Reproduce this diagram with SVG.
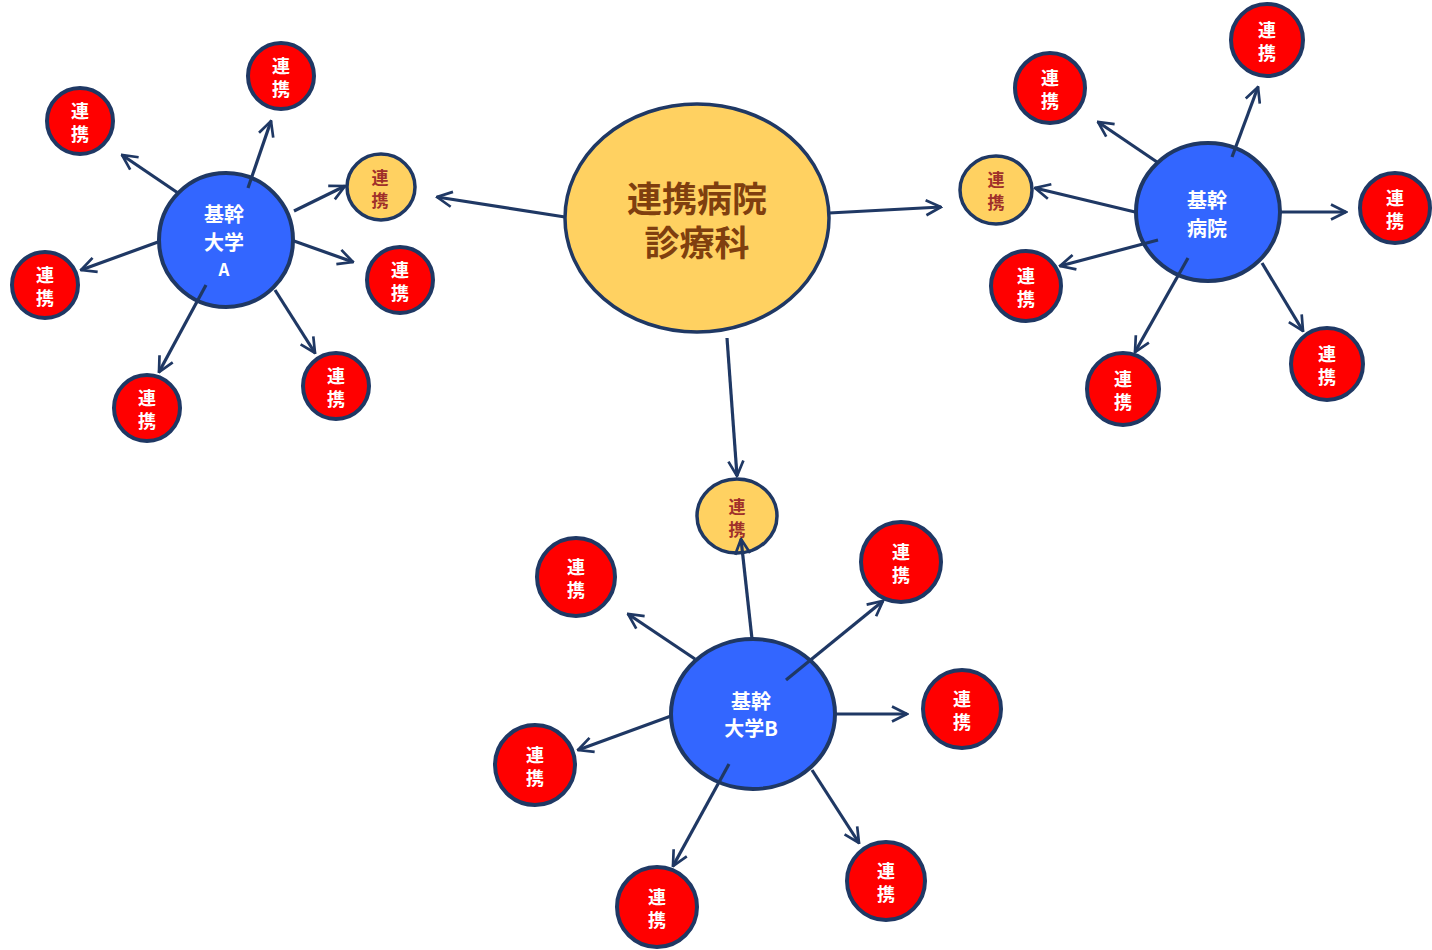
<svg xmlns="http://www.w3.org/2000/svg" width="1432" height="950" viewBox="0 0 1432 950">
<style>
.bg{fill:#ffffff}
.main{fill:#FFD161;stroke:#1F3864;stroke-width:3.5}
.hub{fill:#3366FF;stroke:#1F3864;stroke-width:4}
.sub{fill:#FFD161;stroke:#1F3864;stroke-width:3.5}
.leaf{fill:#FF0000;stroke:#1F3864;stroke-width:4}
text{font-family:"Noto Sans CJK JP","Noto Sans CJK SC",sans-serif;font-weight:bold;text-anchor:middle;dominant-baseline:central}
.tmain{fill:#7F3F0F;font-size:35px}
.thub{fill:#ffffff;font-size:20px}
.tsub{fill:#A0302A;font-size:17px}
.tleaf{fill:#ffffff;font-size:18px}
.conn line{stroke:#1F3864;stroke-width:3.2;fill:none;marker-end:url(#arr)}
</style>
<defs>
<marker id="arr" viewBox="0 0 12 12" refX="11" refY="6" markerWidth="18" markerHeight="18" markerUnits="userSpaceOnUse" orient="auto">
<path d="M1,1 L11,6 L1,11" fill="none" stroke="#1F3864" stroke-width="1.8" stroke-linejoin="miter"/>
</marker>
</defs>
<rect class="bg" x="0" y="0" width="1432" height="950"/>
<g id="center">
<ellipse class="main" cx="697" cy="218" rx="132" ry="114"/>
<text class="tmain" x="697" y="196">連携病院</text>
<text class="tmain" x="697" y="240">診療科</text>
</g>
<g id="hubA">
<circle class="hub" cx="226" cy="240" r="67"/>
<text class="thub" x="224" y="213">基幹</text>
<text class="thub" x="224" y="241">大学</text>
<text class="thub" x="224" y="268" style="font-size:17px">A</text>
</g>
<g id="hubHospital">
<ellipse class="hub" cx="1208" cy="212" rx="72" ry="69"/>
<text class="thub" x="1207" y="199">基幹</text>
<text class="thub" x="1207" y="227">病院</text>
</g>
<g id="hubB">
<ellipse class="hub" cx="753" cy="714" rx="82" ry="75"/>
<text class="thub" x="751" y="700">基幹</text>
<text class="thub" x="751" y="727">大学B</text>
</g>
<g id="subA"><ellipse class="sub" cx="381" cy="187" rx="34" ry="33"/><text class="tsub" x="380" y="176">連</text><text class="tsub" x="380" y="199">携</text></g>
<g id="subH"><ellipse class="sub" cx="996" cy="190" rx="36" ry="34"/><text class="tsub" x="996" y="178">連</text><text class="tsub" x="996" y="201">携</text></g>
<g id="subB"><ellipse class="sub" cx="737" cy="516" rx="40" ry="37"/><text class="tsub" x="737" y="505">連</text><text class="tsub" x="737" y="528">携</text></g>
<g id="a1"><circle class="leaf" cx="80" cy="121" r="33"/><text class="tleaf" x="80" y="110">連</text><text class="tleaf" x="80" y="133">携</text></g>
<g id="a2"><circle class="leaf" cx="281" cy="76" r="33"/><text class="tleaf" x="281" y="65">連</text><text class="tleaf" x="281" y="88">携</text></g>
<g id="a3"><circle class="leaf" cx="45" cy="285" r="33"/><text class="tleaf" x="45" y="274">連</text><text class="tleaf" x="45" y="297">携</text></g>
<g id="a4"><circle class="leaf" cx="400" cy="280" r="33"/><text class="tleaf" x="400" y="269">連</text><text class="tleaf" x="400" y="292">携</text></g>
<g id="a5"><circle class="leaf" cx="336" cy="386" r="33"/><text class="tleaf" x="336" y="375">連</text><text class="tleaf" x="336" y="398">携</text></g>
<g id="a6"><circle class="leaf" cx="147" cy="408" r="33"/><text class="tleaf" x="147" y="397">連</text><text class="tleaf" x="147" y="420">携</text></g>
<g id="h1"><circle class="leaf" cx="1050" cy="88" r="35"/><text class="tleaf" x="1050" y="77">連</text><text class="tleaf" x="1050" y="100">携</text></g>
<g id="h2"><circle class="leaf" cx="1267" cy="40" r="36"/><text class="tleaf" x="1267" y="29">連</text><text class="tleaf" x="1267" y="52">携</text></g>
<g id="h3"><circle class="leaf" cx="1395" cy="208" r="35"/><text class="tleaf" x="1395" y="197">連</text><text class="tleaf" x="1395" y="220">携</text></g>
<g id="h4"><circle class="leaf" cx="1026" cy="286" r="35"/><text class="tleaf" x="1026" y="275">連</text><text class="tleaf" x="1026" y="298">携</text></g>
<g id="h5"><circle class="leaf" cx="1327" cy="364" r="36"/><text class="tleaf" x="1327" y="353">連</text><text class="tleaf" x="1327" y="376">携</text></g>
<g id="h6"><circle class="leaf" cx="1123" cy="389" r="36"/><text class="tleaf" x="1123" y="378">連</text><text class="tleaf" x="1123" y="401">携</text></g>
<g id="b1"><circle class="leaf" cx="576" cy="577" r="39"/><text class="tleaf" x="576" y="566">連</text><text class="tleaf" x="576" y="589">携</text></g>
<g id="b2"><circle class="leaf" cx="901" cy="562" r="40"/><text class="tleaf" x="901" y="551">連</text><text class="tleaf" x="901" y="574">携</text></g>
<g id="b3"><circle class="leaf" cx="962" cy="709" r="39"/><text class="tleaf" x="962" y="698">連</text><text class="tleaf" x="962" y="721">携</text></g>
<g id="b4"><circle class="leaf" cx="535" cy="765" r="40"/><text class="tleaf" x="535" y="754">連</text><text class="tleaf" x="535" y="777">携</text></g>
<g id="b5"><circle class="leaf" cx="886" cy="881" r="39"/><text class="tleaf" x="886" y="870">連</text><text class="tleaf" x="886" y="893">携</text></g>
<g id="b6"><circle class="leaf" cx="657" cy="907" r="40"/><text class="tleaf" x="657" y="896">連</text><text class="tleaf" x="657" y="919">携</text></g>
<g id="connectors" class="conn">
<line x1="565" y1="217" x2="437" y2="197"/>
<line x1="829" y1="213" x2="941" y2="207"/>
<line x1="727" y1="338" x2="737" y2="476"/>
<line x1="178" y1="193" x2="122" y2="155"/>
<line x1="248" y1="188" x2="271" y2="121"/>
<line x1="158" y1="242" x2="81" y2="270"/>
<line x1="294" y1="211" x2="345" y2="186"/>
<line x1="294" y1="241" x2="353" y2="262"/>
<line x1="275" y1="290" x2="315" y2="353"/>
<line x1="206" y1="285" x2="159" y2="372"/>
<line x1="1157" y1="162" x2="1098" y2="122"/>
<line x1="1232" y1="157" x2="1258" y2="87"/>
<line x1="1281" y1="212" x2="1346" y2="212"/>
<line x1="1135" y1="212" x2="1035" y2="188"/>
<line x1="1158" y1="240" x2="1060" y2="266"/>
<line x1="1188" y1="258" x2="1135" y2="352"/>
<line x1="1262" y1="263" x2="1303" y2="331"/>
<line x1="752" y1="639" x2="741" y2="539"/>
<line x1="695" y1="659" x2="628" y2="614"/>
<line x1="786" y1="680" x2="883" y2="601"/>
<line x1="835" y1="714" x2="907" y2="714"/>
<line x1="671" y1="716" x2="578" y2="750"/>
<line x1="729" y1="764" x2="673" y2="866"/>
<line x1="812" y1="770" x2="859" y2="843"/>
</g>
</svg>
